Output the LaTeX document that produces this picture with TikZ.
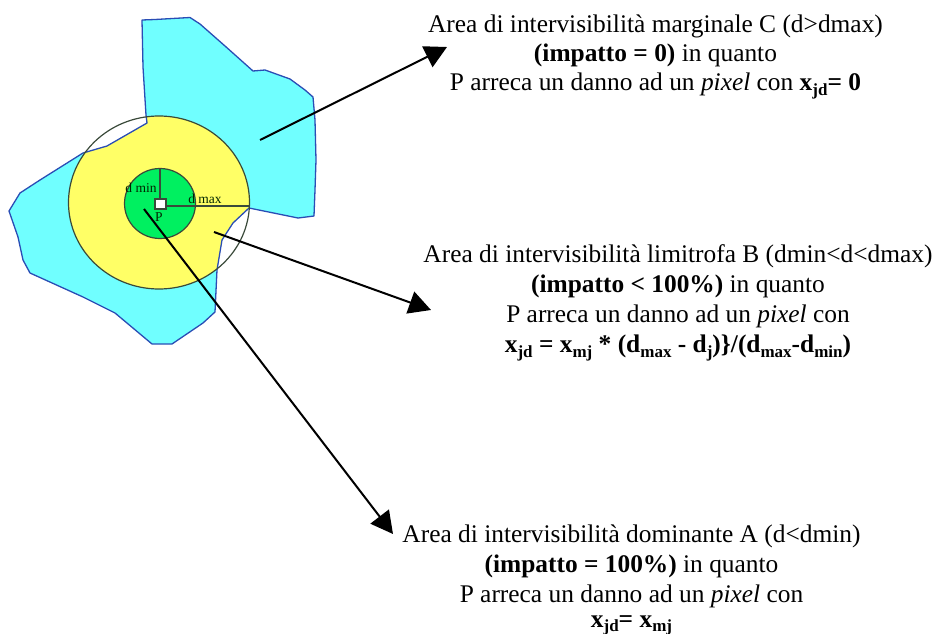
\documentclass[tikz,border=0pt]{standalone}
\usepackage{fontspec}
\setmainfont{Liberation Serif}
\usetikzlibrary{arrows.meta}
\definecolor{cyanarea}{HTML}{70FFFF}
\definecolor{yellowarea}{HTML}{FFFF66}
\definecolor{greenarea}{HTML}{00F060}
\definecolor{blueedge}{HTML}{2A4DB5}
\definecolor{circleedge}{HTML}{3A4A3A}
\newcommand{\sbb}[1]{\raisebox{-0.45ex}{\fontsize{17}{17}\selectfont #1}}
\newcommand{\sbc}[1]{\raisebox{-0.28ex}{\fontsize{17}{17}\selectfont #1}}
\tikzset{
  caption/.style={align=center,inner sep=0pt,font=\fontsize{25.4}{30}\selectfont,anchor=north},
  small/.style={inner sep=0pt,anchor=base,font=\fontsize{13.5}{13.5}\selectfont,text=black!85!green},
  pointer/.style={draw=black,line width=2pt,-{Triangle[length=22pt,width=23pt]},shorten >=0pt},
  thinline/.style={draw=circleedge,line width=1.2pt}
}
\begin{document}
\begin{tikzpicture}[x=1pt,y=-1pt]
\useasboundingbox (0,0) rectangle (935,634);
\def\areapath{(142,20) -- (155,19.5) -- (190,17.5) -- (200,24) -- (225,46) -- (253,71) -- (265,70) -- (290,79) -- (305,90) -- (313,97) -- (315,120) -- (316,160) -- (315,190) -- (314,216) -- (298,218) -- (249,208) -- (233,223) -- (222,240) -- (217,270) -- (215,312) -- (203,323) -- (172,344) -- (152,344) -- (115,313) -- (83,297) -- (30,273) -- (23,260) -- (18,237) -- (9,211) -- (20,193) -- (40,180) -- (83,153) -- (107,146) -- (147,123) -- (146,115) -- (143,67) -- cycle}
\fill[cyanarea] \areapath;
\begin{scope}
  \clip \areapath;
  \fill[yellowarea] (159,202.5) ellipse [x radius=90.5,y radius=86.5];
\end{scope}
\draw[blueedge,line width=1.3pt,line join=round] \areapath;
\draw[thinline] (159,202.5) ellipse [x radius=90.5,y radius=86.5];
\draw[thinline,fill=greenarea] (160,203.5) ellipse [x radius=35.5,y radius=35];
\coordinate (topmin) at (160,168);
\coordinate (rightmax) at (249,206);
\node[draw=circleedge,line width=1.2pt,fill=white,minimum width=11pt,minimum height=10pt,inner sep=0pt] (psquare) at (160.5,204) {};
\draw[thinline] (psquare.north -| topmin) -- (topmin);
\draw[thinline] (psquare.east |- rightmax) -- (rightmax);
\node[small] (dmin) at (141,192.5) {d min};
\node[small] (dmax) at (205,203) {d max};
\node[small] (plabel) at (159,221) {P};
\node[caption,font=\fontsize{25.4}{29}\selectfont] (capC) at (655.5,14.5) {Area di intervisibilità marginale C (d>dmax)\\\textbf{(impatto = 0)} in quanto\\P arreca un danno ad un \textit{pixel} con \textbf{x\sbb{jd}= 0}};
\node[caption] (capB) at (678,244.5) {Area di intervisibilità limitrofa B (dmin<d<dmax)\\\textbf{(impatto < 100\%)} in quanto\\P arreca un danno ad un \textit{pixel} con\\\textbf{x\sbb{jd} = x\sbb{mj} * (d\sbb{max} - d\sbb{j})\}/(d\sbb{max}-d\sbb{min})}};
\node[caption] (capA) at (631.5,524.5) {Area di intervisibilità dominante A (d<dmin)\\\textbf{(impatto = 100\%)} in quanto\\P arreca un danno ad un \textit{pixel} con\\[-4.5pt]\textbf{x\sbc{jd}= x\sbc{mj}}};
\coordinate (startC) at (260,140);
\coordinate (tipC) at (447,47);
\coordinate (startB) at (214,232);
\coordinate (tipB) at (431,310);
\coordinate (startA) at (144,209);
\coordinate (tipA) at (393,534);
\draw[pointer] (startC) -- (tipC);
\draw[pointer] (startB) -- (tipB);
\draw[pointer] (startA) -- (tipA);
\end{tikzpicture}
\end{document}
